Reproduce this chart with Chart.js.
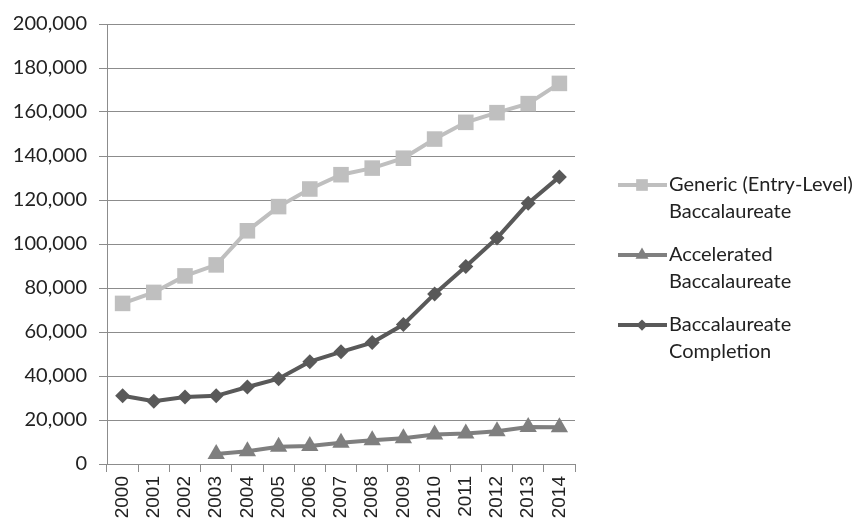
<!DOCTYPE html>
<html>
<head>
<meta charset="utf-8">
<script src="https://cdn.jsdelivr.net/npm/chart.js@4.4.0/dist/chart.umd.min.js"></script>
<style>
    html, body { margin: 0; padding: 0; background: #fff; }
    #wrap { width: 867px; height: 525px; position: relative; }
</style>
</head>
<body>
<div id="wrap"><canvas id="enrollChart"></canvas></div>
<script>
// Data
const years = ['2000', '2001', '2002', '2003', '2004', '2005', '2006', '2007',
               '2008', '2009', '2010', '2011', '2012', '2013', '2014'];
const generic = [73000, 78000, 85500, 90500, 106000, 117000, 125000, 131500,
                 134500, 139000, 147700, 155300, 159700, 163800, 173000];
const accelerated = [null, null, null, 4500, 5800, 7800, 8200, 9700,
                     10800, 11700, 13400, 13900, 14900, 16800, 16700];
const completion = [31000, 28500, 30500, 31000, 35000, 38800, 46500, 51000,
                    55200, 63400, 77300, 89800, 102700, 118500, 130500];
const legendLabels = [
    ['Generic (Entry-Level)', 'Baccalaureate'],
    ['Accelerated', 'Baccalaureate'],
    ['Baccalaureate', 'Completion']
];

const legendFont = '20px Lato';

function drawMarker(ctx, style, x, y, r, color) {
    ctx.fillStyle = color;
    ctx.beginPath();
    if (style === 'rect') {
        const h = r * Math.SQRT1_2;
        ctx.rect(x - h, y - h, h * 2, h * 2);
    } else if (style === 'triangle') {
        ctx.moveTo(x, y - r);
        ctx.lineTo(x + r * 0.866, y + r * 0.5);
        ctx.lineTo(x - r * 0.866, y + r * 0.5);
        ctx.closePath();
    } else {
        ctx.moveTo(x, y - r);
        ctx.lineTo(x + r, y);
        ctx.lineTo(x, y + r);
        ctx.lineTo(x - r, y);
        ctx.closePath();
    }
    ctx.fill();
}

// Legend on the right, two text lines per entry like the original
const sideLegend = {
    id: 'sideLegend',
    afterDraw(chart) {
        const ctx = chart.ctx;
        const rows = [185, 255, 325];
        ctx.save();
        chart.data.datasets.forEach((ds, i) => {
            const y = rows[i];
            ctx.strokeStyle = ds.borderColor;
            ctx.lineWidth = 4;
            ctx.beginPath();
            ctx.moveTo(618, y);
            ctx.lineTo(667, y);
            ctx.stroke();
            drawMarker(ctx, ds.pointStyle, 642, y, ds.pointRadius * 0.75, ds.borderColor);
            ctx.fillStyle = '#222';
            ctx.font = legendFont;
            ctx.textBaseline = 'middle';
            ctx.textAlign = 'left';
            legendLabels[i].forEach((line, j) => {
                ctx.fillText(line, 669, y + j * 27);
            });
        });
        ctx.restore();
    }
};

const ctx = document.getElementById('enrollChart').getContext('2d');
const enrollChart = new Chart(ctx, {
    type: 'line',
    data: {
        labels: years,
        datasets: [{
            label: 'Generic (Entry-Level) Baccalaureate',
            data: generic,
            borderColor: '#bfbfbf',
            backgroundColor: '#bfbfbf',
            borderWidth: 4,
            pointStyle: 'rect',
            pointRadius: 11,
            pointBorderWidth: 0
        }, {
            label: 'Accelerated Baccalaureate',
            data: accelerated,
            borderColor: '#7f7f7f',
            backgroundColor: '#7f7f7f',
            borderWidth: 4,
            pointStyle: 'triangle',
            pointRadius: 10,
            pointBorderWidth: 0
        }, {
            label: 'Baccalaureate Completion',
            data: completion,
            borderColor: '#595959',
            backgroundColor: '#595959',
            borderWidth: 4,
            pointStyle: 'rectRot',
            pointRadius: 7.5,
            pointBorderWidth: 0
        }]
    },
    options: {
        responsive: true,
        maintainAspectRatio: false,
        animation: false,
        layout: {
            padding: { top: 20, right: 292, left: 0, bottom: 0 }
        },
        plugins: {
            legend: { display: false },
            tooltip: { enabled: false }
        },
        scales: {
            y: {
                min: 0,
                max: 200000,
                afterFit(axis) { axis.width = 107; },
                ticks: {
                    stepSize: 20000,
                    padding: 12,
                    color: '#222',
                    font: { family: 'Lato', size: 20 },
                    callback: v => v.toLocaleString('en-US')
                },
                grid: {
                    color: '#8c8c8c',
                    lineWidth: 1,
                    tickLength: 8
                },
                border: { color: '#8c8c8c', width: 1 }
            },
            x: {
                offset: true,
                afterFit(axis) { axis.height = 61; },
                ticks: {
                    minRotation: 90,
                    maxRotation: 90,
                    padding: 4,
                    color: '#222',
                    font: { family: 'Liberation Sans', size: 19 }
                },
                grid: {
                    offset: true,
                    drawOnChartArea: false,
                    color: '#8c8c8c',
                    tickLength: 8
                },
                border: { color: '#8c8c8c', width: 1 }
            }
        }
    },
    plugins: [sideLegend]
});
</script>
</body>
</html>
